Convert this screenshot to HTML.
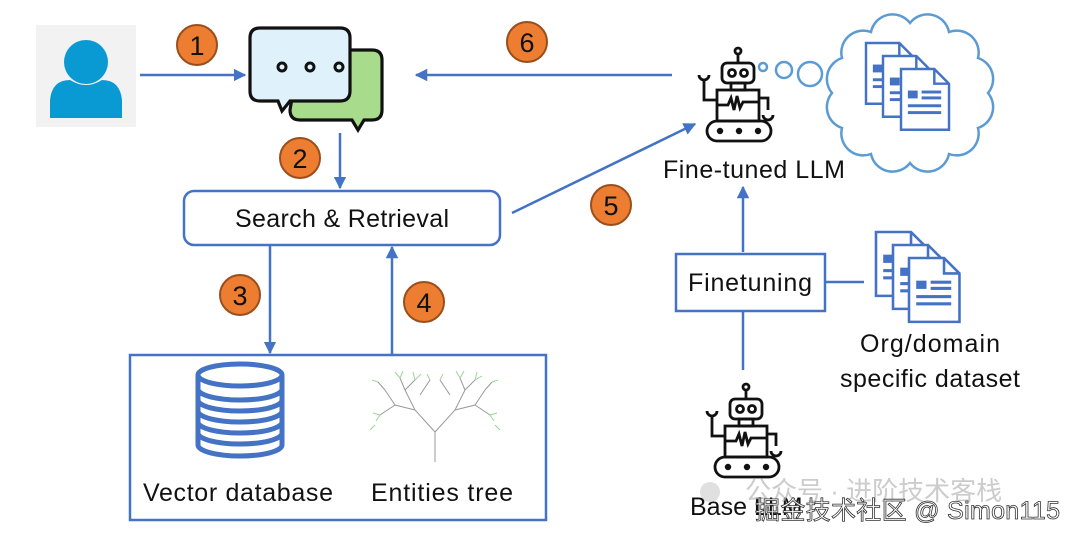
<!DOCTYPE html>
<html><head><meta charset="utf-8"><style>
html,body{margin:0;padding:0;background:#fff;width:1080px;height:540px;overflow:hidden}
text{font-family:"Liberation Sans","Noto Sans CJK SC",sans-serif}
</style></head><body>
<svg width="1080" height="540" viewBox="0 0 1080 540" xmlns="http://www.w3.org/2000/svg">
<defs>
<marker id="ah" viewBox="0 0 10 10" refX="9" refY="5" markerWidth="5" markerHeight="5" orient="auto"><path d="M0,0 L10,5 L0,10 z" fill="#4472c4"/></marker>
<g id="robot" fill="none" stroke="#111" stroke-width="2.8">
<circle cx="738" cy="51" r="3"/><line x1="738" y1="54" x2="738" y2="63"/>
<rect x="722" y="63" width="32" height="20" rx="5"/>
<circle cx="732" cy="73" r="3.5"/><circle cx="744" cy="73" r="3.5"/>
<rect x="731" y="83" width="14" height="7"/>
<rect x="717" y="90" width="42" height="31"/>
<polyline points="717,105 728,105 731,98 734,110 737,96 740,108 743,102 759,102"/>
<rect x="707" y="121" width="64" height="20" rx="10"/>
<polyline points="717,100 704,100 704,80"/><path d="M699,75 a5,5 0 0 0 10,0"/>
<polyline points="759,98 768,98 768,110"/><path d="M763,115 a5,5 0 0 0 10,0"/>
<circle cx="720" cy="131" r="1.8" fill="#111"/><circle cx="739" cy="131" r="1.8" fill="#111"/><circle cx="758" cy="131" r="1.8" fill="#111"/>
</g>
<g id="doc" fill="#fff" stroke="#4472c4" stroke-width="2.5">
<path d="M0,0 L34,0 L49,15 L49,62 L0,62 Z"/><path d="M34,0 L34,15 L49,15" fill="none"/>
<rect x="7" y="22" width="10" height="8" fill="#4472c4" stroke="none"/>
<rect x="21" y="22" width="20" height="3" fill="#4472c4" stroke="none"/>
<rect x="21" y="28" width="20" height="3" fill="#4472c4" stroke="none"/>
<rect x="7" y="36" width="34" height="3" fill="#4472c4" stroke="none"/>
<rect x="7" y="43" width="34" height="3" fill="#4472c4" stroke="none"/>
</g>
</defs>

<!-- person -->
<rect x="36" y="25" width="100" height="102" fill="#f2f2f2"/>
<circle cx="86" cy="62" r="22" fill="#0a9ad3"/>
<path d="M50,118 L50,100 Q52,80 70,80 Q86,90 102,80 Q120,80 122,100 L122,118 Z" fill="#0a9ad3"/>

<!-- chat -->
<path d="M300,50 h72 q10,0 10,10 v50 q0,10 -10,10 h-8 l-6,10 l-6,-10 h-52 q-10,0 -10,-10 z" fill="#a8dc8c" stroke="#111" stroke-width="3.2"/>
<path d="M260,28 h80 q10,0 10,10 v53 q0,10 -10,10 h-50 l-8,10 l-4,-10 h-18 q-10,0 -10,-10 v-53 q0,-10 10,-10 z" fill="#dff2fb" stroke="#111" stroke-width="3.2"/>
<circle cx="282" cy="67" r="4" fill="none" stroke="#111" stroke-width="3"/>
<circle cx="310" cy="67" r="4" fill="none" stroke="#111" stroke-width="3"/>
<circle cx="339" cy="67" r="4" fill="none" stroke="#111" stroke-width="3"/>

<!-- connectors -->
<g stroke="#4472c4" stroke-width="2.5" fill="none">
<line x1="140" y1="75" x2="245" y2="75" marker-end="url(#ah)"/>
<line x1="672" y1="75" x2="416" y2="75" marker-end="url(#ah)"/>
<line x1="340" y1="133" x2="340" y2="188" marker-end="url(#ah)"/>
<line x1="270" y1="246" x2="270" y2="353" marker-end="url(#ah)"/>
<line x1="392" y1="354" x2="392" y2="247" marker-end="url(#ah)"/>
<line x1="512" y1="213" x2="695" y2="124" marker-end="url(#ah)"/>
<line x1="743" y1="252" x2="743" y2="187" marker-end="url(#ah)"/>
<line x1="825" y1="282" x2="864" y2="282"/>
<line x1="743" y1="312" x2="743" y2="370"/>
</g>

<!-- numbered circles -->
<g font-size="27" text-anchor="middle" fill="#111">
<circle cx="197" cy="45" r="20" fill="#ed7d31" stroke="#9a4e1c" stroke-width="2"/><text x="197" y="55">1</text>
<circle cx="300" cy="158" r="20" fill="#ed7d31" stroke="#9a4e1c" stroke-width="2"/><text x="300" y="168">2</text>
<circle cx="240" cy="295" r="20" fill="#ed7d31" stroke="#9a4e1c" stroke-width="2"/><text x="240" y="305">3</text>
<circle cx="424" cy="302" r="20" fill="#ed7d31" stroke="#9a4e1c" stroke-width="2"/><text x="424" y="312">4</text>
<circle cx="611" cy="205" r="20" fill="#ed7d31" stroke="#9a4e1c" stroke-width="2"/><text x="611" y="215">5</text>
<circle cx="527" cy="42" r="20" fill="#ed7d31" stroke="#9a4e1c" stroke-width="2"/><text x="527" y="52">6</text>
</g>

<!-- search box -->
<rect x="184" y="191" width="316" height="54" rx="10" fill="#fff" stroke="#4472c4" stroke-width="2.5"/>
<text x="342" y="227" font-size="25" text-anchor="middle" fill="#111" textLength="214">Search &amp; Retrieval</text>

<!-- bottom box -->
<rect x="130" y="355" width="416" height="165" fill="none" stroke="#4472c4" stroke-width="2.5"/>
<g fill="#fff" stroke="#4472c4" stroke-width="5">
<path d="M198,375 v70 a42,11 0 0 0 84,0 v-70"/>
<path d="M198,389 a42,11 0 0 0 84,0"/>
<path d="M198,400 a42,11 0 0 0 84,0" fill="none"/>
<path d="M198,411 a42,11 0 0 0 84,0" fill="none"/>
<path d="M198,422 a42,11 0 0 0 84,0" fill="none"/>
<path d="M198,433 a42,11 0 0 0 84,0" fill="none"/>
<ellipse cx="240" cy="375" rx="42" ry="11"/>
</g>
<g stroke="#999" stroke-width="1" fill="none">
<path d="M435,462 V432 L415,410 L405,390 M435,432 L455,410 L465,390 M415,410 L395,405 L385,390 M455,410 L475,405 L485,390 M405,390 L400,378 M405,390 L415,380 M465,390 L460,378 M465,390 L475,380 M395,405 L380,415 M475,405 L490,415 M385,390 L378,382 M485,390 L492,382 M420,395 L430,380 M450,395 L440,380"/>
</g>
<g stroke="#9ed39a" stroke-width="1" fill="none">
<path d="M400,378 l-5,-6 M400,378 l3,-7 M415,380 l-2,-8 M415,380 l6,-6 M460,378 l-4,-7 M460,378 l4,-7 M475,380 l2,-8 M475,380 l7,-4 M380,415 l-7,-2 M380,415 l-4,6 M490,415 l7,-2 M490,415 l4,6 M378,382 l-6,-2 M492,382 l6,-2 M430,380 l-3,-6 M440,380 l3,-6 M375,425 l-5,5 M495,425 l5,5"/>
</g>
<text x="238" y="501" font-size="25" text-anchor="middle" fill="#111" textLength="190">Vector database</text>
<text x="442" y="501" font-size="25" text-anchor="middle" fill="#111" textLength="142">Entities tree</text>

<!-- robots -->
<use href="#robot"/>
<use href="#robot" transform="translate(8,336)"/>
<text x="754" y="178" font-size="25" text-anchor="middle" fill="#111" textLength="182">Fine-tuned LLM</text>

<!-- thought bubbles & cloud -->
<g fill="none" stroke="#5b9bd5" stroke-width="2.5">
<circle cx="763" cy="67" r="4"/><circle cx="784" cy="70" r="8"/><circle cx="810" cy="74" r="12"/>
<path d="M988,93 A22,22 0 0 0 978,58 A22,22 0 0 0 949,32 A22,22 0 0 0 910,23 A22,22 0 0 0 871,32 A22,22 0 0 0 842,58 A22,22 0 0 0 832,93 A22,22 0 0 0 842,128 A22,22 0 0 0 871,154 A22,22 0 0 0 910,163 A22,22 0 0 0 949,154 A22,22 0 0 0 978,128 A22,22 0 0 0 988,93 Z" fill="#fff"/>
</g>
<use href="#doc" transform="translate(866,43) scale(0.98)"/>
<use href="#doc" transform="translate(883,56) scale(0.98)"/>
<use href="#doc" transform="translate(901,69) scale(0.98)"/>

<!-- finetuning -->
<rect x="676" y="254" width="149" height="57" fill="#fff" stroke="#4472c4" stroke-width="2.5"/>
<text x="750" y="291" font-size="25" text-anchor="middle" fill="#111" textLength="124">Finetuning</text>
<use href="#doc" transform="translate(876,232) scale(1.03)"/>
<use href="#doc" transform="translate(893,245) scale(1.03)"/>
<use href="#doc" transform="translate(909,258) scale(1.03)"/>
<text x="930" y="352" font-size="25" text-anchor="middle" fill="#111" textLength="140">Org/domain</text>
<text x="930" y="387" font-size="25" text-anchor="middle" fill="#111" textLength="180">specific dataset</text>

<!-- base LLM + watermark -->
<text x="690" y="515" font-size="25" fill="#111">Base LLM</text>
<circle cx="710" cy="492" r="10" fill="#ccc" opacity="0.6"/>
<text x="745" y="500" font-size="26" fill="#bbb" opacity="0.75">公众号 · 进阶技术客栈</text>
<text x="755" y="519" font-size="25" fill="#fff" stroke="#333" stroke-width="0.8" textLength="305">掘金技术社区 @ Simon115</text>
</svg>
</body></html>
